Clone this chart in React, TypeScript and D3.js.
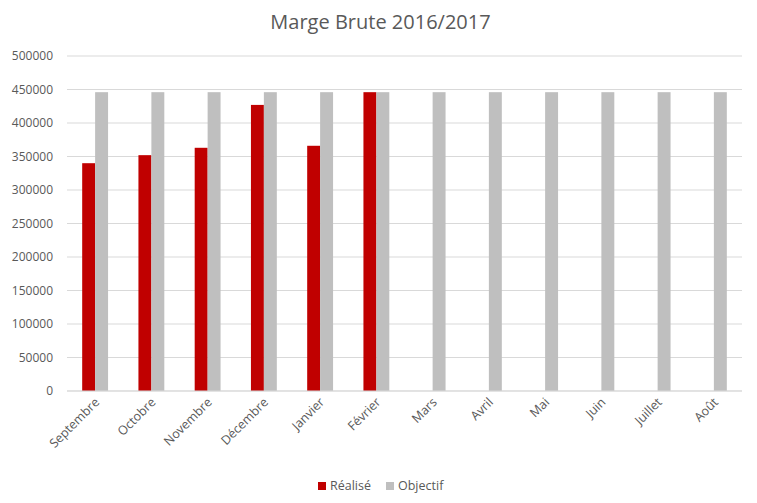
import React from "react";
import * as d3 from "d3";

const months = ["Septembre","Octobre","Novembre","Décembre","Janvier","Février","Mars","Avril","Mai","Juin","Juillet","Août"];
const realise: (number | null)[] = [340000, 352000, 363000, 427000, 366000, 446000, null, null, null, null, null, null];
const objectif = [446000, 446000, 446000, 446000, 446000, 446000, 446000, 446000, 446000, 446000, 446000, 446000];
const yTicks = [0, 50000, 100000, 150000, 200000, 250000, 300000, 350000, 400000, 450000, 500000];

const W = 757, H = 503;
const m = { left: 67, right: 15, top: 56, bottom: 112 };
const font = "'Open Sans', 'Liberation Sans', sans-serif";
const txt = "#595959";

export default function App() {
  const x = d3.scaleBand<string>().domain(months).range([m.left, W - m.right]).paddingInner(0.54).paddingOuter(0.27);
  const y = d3.scaleLinear().domain([0, 500000]).range([H - m.bottom, m.top]);
  const bw = x.bandwidth() / 2;
  return (
    <svg width={W} height={H} style={{ position: "absolute", left: 0, top: 0, background: "#fff" }} fontFamily={font}>
      <text x={W / 2 + 2} y={29} textAnchor="middle" fontSize={20} fill={txt}>Marge Brute 2016/2017</text>
      {yTicks.map((t) => (
        <g key={t}>
          <line x1={m.left} x2={W - m.right} y1={y(t)} y2={y(t)} stroke="#d9d9d9" strokeWidth={1} />
          <text x={53} y={y(t)} dy="0.35em" textAnchor="end" fontSize={12} fill={txt}>{t}</text>
        </g>
      ))}
      {months.map((mo, i) => {
        const x0 = x(mo)!;
        const r = realise[i];
        return (
          <g key={mo}>
            {r != null && <rect x={x0} y={y(r)} width={bw} height={y(0) - y(r)} fill="#c00000" />}
            <rect x={x0 + bw} y={y(objectif[i])} width={bw} height={y(0) - y(objectif[i])} fill="#bfbfbf" />
            <text transform={`translate(${x0 + bw + 5},${y(0) + 12}) rotate(-45)`} textAnchor="end" fontSize={12.5} fill={txt}>{mo}</text>
          </g>
        );
      })}
      <line x1={m.left} x2={W - m.right} y1={y(0)} y2={y(0)} stroke="#d9d9d9" />
      <g fontSize={12.5} fill={txt}>
        <rect x={318} y={482} width={8} height={8} fill="#c00000" />
        <text x={330} y={490}>Réalisé</text>
        <rect x={386} y={482} width={8} height={8} fill="#bfbfbf" />
        <text x={398} y={490}>Objectif</text>
      </g>
    </svg>
  );
}
